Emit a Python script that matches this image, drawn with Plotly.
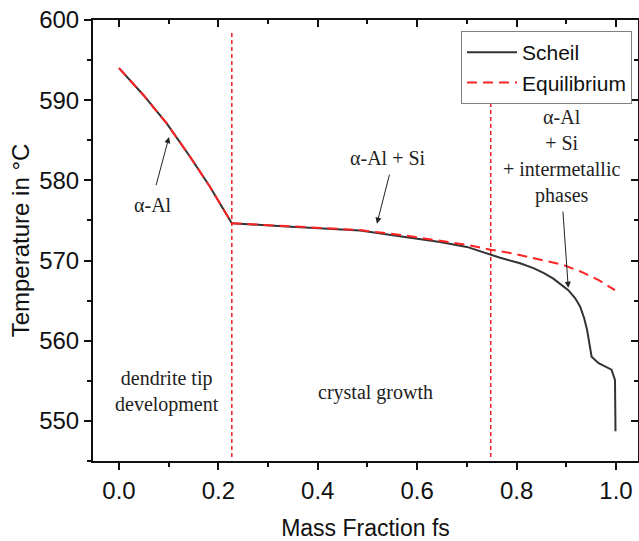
import plotly.graph_objects as go

# ---- data ----
scheil_fs = [0.0, 0.049, 0.096, 0.143, 0.183, 0.227, 0.337, 0.485, 0.579, 0.646, 0.700,
             0.748, 0.767, 0.807, 0.834, 0.854, 0.874, 0.904, 0.918, 0.928, 0.936, 0.942,
             0.951, 0.965, 0.991, 0.998, 0.999]
scheil_T = [594.0, 590.65, 587.1, 582.95, 579.2, 574.65, 574.25, 573.75, 572.9, 572.3, 571.7,
            570.75, 570.35, 569.66, 569.05, 568.45, 567.75, 566.3, 565.3, 564.25, 562.8, 561.3,
            558.0, 557.2, 556.4, 555.1, 548.7]

equil_fs = [0.0, 0.049, 0.096, 0.143, 0.183, 0.227, 0.337, 0.485, 0.579, 0.646, 0.700,
            0.748, 0.787, 0.827, 0.894, 0.934, 0.967, 0.998]
equil_T = [594.0, 590.65, 587.1, 582.95, 579.2, 574.65, 574.3, 573.8, 573.1, 572.5, 571.95,
           571.35, 570.95, 570.4, 569.45, 568.5, 567.5, 566.3]

phase_bounds = [0.227, 0.748]
x_ticks = [0.0, 0.2, 0.4, 0.6, 0.8, 1.0]
y_ticks = [550, 560, 570, 580, 590, 600]

SANS = "Liberation Sans, Arial, sans-serif"
SERIF = "Liberation Serif, Times New Roman, serif"

fig = go.Figure()
fig.add_trace(go.Scatter(x=scheil_fs, y=scheil_T, mode="lines", name="Scheil",
                         line=dict(color="#333333", width=2)))
fig.add_trace(go.Scatter(x=equil_fs, y=equil_T, mode="lines", name="Equilibrium",
                         line=dict(color="#ff2424", width=2, dash="10px,6px")))
# helper trace to create the mirrored (inside-tick) top/right axes
fig.add_trace(go.Scatter(x=[], y=[], xaxis="x2", yaxis="y2", showlegend=False,
                         hoverinfo="skip"))

for b in phase_bounds:
    fig.add_shape(type="line", x0=b, x1=b, y0=545.5, y1=598.5, xref="x", yref="y",
                  line=dict(color="#ee1c25", width=1.5, dash="4px,3px"))

xr = [-0.0523, 1.0443]
yr = [545, 600]

axis_common = dict(showgrid=False, zeroline=False, automargin=False)
fig.update_layout(
    width=639, height=541,
    margin=dict(l=93, r=1, t=20, b=80),
    paper_bgcolor="white", plot_bgcolor="white",
    xaxis=dict(range=xr, tickvals=x_ticks, ticktext=[f"{v:.1f}" for v in x_ticks],
               ticks="outside", ticklen=7, tickwidth=1.5, tickcolor="#111",
               minor=dict(dtick=0.1, tick0=0, ticks="outside", ticklen=4, tickwidth=1.5,
                          tickcolor="#111"),
               showline=True, linecolor="#111", linewidth=2, mirror=True,
               tickfont=dict(family=SANS, size=24, color="#111"),
               title=dict(text="Mass Fraction fs", font=dict(family=SANS, size=23, color="#111"),
                          standoff=19),
               **axis_common),
    yaxis=dict(range=yr, tickvals=y_ticks,
               ticks="outside", ticklen=7, tickwidth=1.5, tickcolor="#111",
               minor=dict(dtick=5, tick0=545, ticks="outside", ticklen=4, tickwidth=1.5,
                          tickcolor="#111"),
               showline=True, linecolor="#111", linewidth=2, mirror=True,
               tickfont=dict(family=SANS, size=24, color="#111"),
               title=dict(text="Temperature in °C", font=dict(family=SANS, size=24, color="#111"),
                          standoff=3),
               **axis_common),
    xaxis2=dict(range=xr, overlaying="x", side="top", tickvals=x_ticks,
                ticks="inside", ticklen=7, tickwidth=1.5, tickcolor="#111",
                minor=dict(dtick=0.1, tick0=0, ticks="inside", ticklen=4, tickwidth=1.5,
                           tickcolor="#111"),
                showticklabels=False, showline=False, **axis_common),
    yaxis2=dict(range=yr, overlaying="y", side="right", tickvals=y_ticks,
                ticks="inside", ticklen=7, tickwidth=1.5, tickcolor="#111",
                minor=dict(dtick=5, tick0=545, ticks="inside", ticklen=4, tickwidth=1.5,
                           tickcolor="#111"),
                showticklabels=False, showline=False, **axis_common),
    legend=dict(x=0.989, y=0.975, xanchor="right", yanchor="top",
                bgcolor="white", bordercolor="#808080", borderwidth=1,
                font=dict(family=SANS, size=21, color="#111"), itemwidth=50,
                tracegroupgap=0),
    showlegend=True,
)

# arrows (empty-text annotations)
arrows = [
    (0.1006, 585.4, 0.0738, 579.2),
    (0.519, 574.6, 0.545, 580.9),
    (0.904, 566.6, 0.893, 576.3),
]
for hx, hy, tx, ty in arrows:
    fig.add_annotation(x=hx, y=hy, ax=tx, ay=ty, xref="x", yref="y", axref="x", ayref="y",
                       text="", showarrow=True, arrowhead=2, arrowsize=1.2, arrowwidth=1,
                       arrowcolor="#222")

labels = [
    ("α-Al", 0.069, 576.9),
    ("α-Al + Si", 0.541, 582.8),
    ("α-Al<br>+ Si<br>+ intermetallic<br>phases", 0.891, 583.0),
    ("dendrite tip<br>development", 0.0966, 553.7),
    ("crystal growth", 0.517, 553.6),
]
for t, x, y in labels:
    fig.add_annotation(x=x, y=y, xref="x", yref="y", text=t, showarrow=False,
                       font=dict(family=SERIF, size=20, color="#222"), align="center")

fig.write_html("out.html",
               config={"displayModeBar": False},
               post_script="document.body.style.margin='0px';"
                           "document.body.style.padding='0px';"
                           "document.body.style.overflow='hidden';")
